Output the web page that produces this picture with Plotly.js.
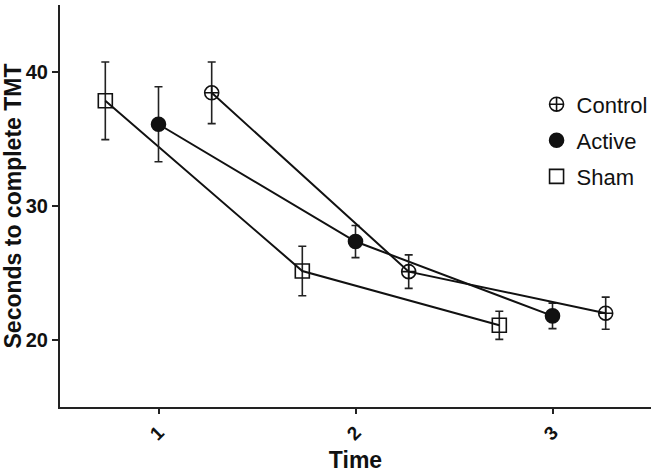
<!DOCTYPE html>
<html><head><meta charset="utf-8">
<script src="https://cdn.plot.ly/plotly-3.0.1.min.js"></script>
<style>html,body{margin:0;padding:0;background:#fff}</style>
</head><body><div id="chart" style="width:656px;height:473px"></div>
<script>
// Data
var timeLabels = ['1', '2', '3'];
var timeTicks = [1, 2, 3];
var seriesNames = ['Control', 'Active', 'Sham'];
var controlX = [1.27, 2.27, 3.27];
var activeX = [1.0, 2.0, 3.0];
var shamX = [0.73, 1.73, 2.73];
var controlY = [38.45, 25.1, 22.0];
var activeY = [36.1, 27.35, 21.8];
var shamY = [37.85, 25.15, 21.1];
var controlErr = [2.3, 1.25, 1.2];
var activeErr = [2.8, 1.2, 0.95];
var shamErr = [2.9, 1.85, 1.05];

var FONT = 'Liberation Sans, Arial, sans-serif';
var symbols = {Control: 'circle-cross-open', Active: 'circle', Sham: 'square-open'};

function dataTrace(name, xs, ys, errs) {
  return {
    type: 'scatter', mode: 'lines+markers', name: name, x: xs, y: ys,
    showlegend: false, cliponaxis: false,
    line: {color: '#111', width: 2},
    marker: {symbol: symbols[name], size: 14, color: '#111', line: {color: '#111', width: 1.6}},
    error_y: {type: 'data', array: errs, visible: true, color: '#222', thickness: 1.6, width: 4}
  };
}
function legendTrace(name, i) {
  return {
    type: 'scatter', mode: 'markers', name: name, x: [null], y: [null],
    legendgroup: 'g' + i, showlegend: true,
    marker: {symbol: symbols[name], size: 14, color: '#111', line: {color: '#111', width: 1.6}}
  };
}

var traces = [
  dataTrace('Sham', shamX, shamY, shamErr),
  dataTrace('Active', activeX, activeY, activeErr),
  dataTrace('Control', controlX, controlY, controlErr)
];
seriesNames.forEach(function (n, i) { traces.push(legendTrace(n, i)); });

var layout = {
  width: 656, height: 473,
  margin: {l: 60, r: 4, t: 5, b: 66},
  paper_bgcolor: '#fff', plot_bgcolor: '#fff',
  font: {family: FONT, color: '#111'},
  showlegend: true,
  legend: {x: 0.805, y: 0.805, xanchor: 'left', yanchor: 'top', bgcolor: 'rgba(0,0,0,0)',
           font: {family: FONT, size: 22, color: '#111'}, tracegroupgap: 4.5, traceorder: 'grouped'},
  xaxis: {
    range: [0.5, 3.5], showgrid: false, zeroline: false,
    showline: true, linecolor: '#222', linewidth: 2,
    ticks: 'outside', ticklen: 5, tickwidth: 2, tickcolor: '#222',
    tickvals: timeTicks, ticktext: timeLabels, tickangle: -45,
    tickfont: {family: FONT, size: 19, color: '#111', weight: 'bold'},
    title: {text: '<b>Time</b>', font: {family: FONT, size: 23, color: '#111'}, standoff: 9}
  },
  yaxis: {
    range: [15, 45], showgrid: false, zeroline: false,
    showline: true, linecolor: '#222', linewidth: 2,
    ticks: 'outside', ticklen: 6, tickwidth: 2, tickcolor: '#222',
    tickvals: [20, 30, 40], ticktext: ['20', '30', '40'],
    tickfont: {family: FONT, size: 20, color: '#111', weight: 'bold'},
    title: {text: '<b>Seconds to complete TMT</b>', font: {family: FONT, size: 23, color: '#111'}, standoff: 1}
  }
};
Plotly.newPlot('chart', traces, layout, {displayModeBar: false, staticPlot: true});
</script></body></html>
